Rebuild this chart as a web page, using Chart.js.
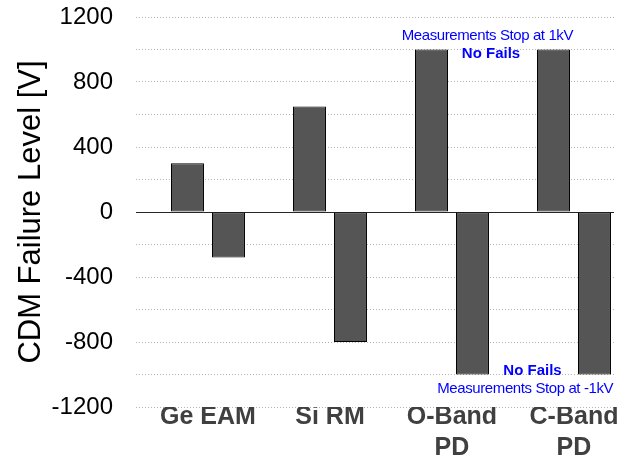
<!DOCTYPE html>
<html>
<head>
<meta charset="utf-8">
<script src="https://cdn.jsdelivr.net/npm/chart.js@4/dist/chart.umd.min.js"></script>
<style>
  html, body { margin: 0; padding: 0; background: #fff; }
  #wrap { width: 635px; height: 457px; }
</style>
</head>
<body>
<div id="wrap"><canvas id="chart" width="635" height="457"></canvas></div>
<script>
const categories = [['Ge EAM'], ['Si RM'], ['O-Band', 'PD'], ['C-Band', 'PD']];
const positiveLevels = [300, 650, 1000, 1000];
const negativeLevels = [-280, -800, -1000, -1000];
const yTicks = [-1200, -800, -400, 0, 400, 800, 1200];

const notes = [
    { text: 'Measurements Stop at 1kV', x: 2.29, y: 1085, bold: false },
    { text: 'No Fails', x: 2.32, y: 975, bold: true },
    { text: 'No Fails', x: 2.66, y: -975, bold: true },
    { text: 'Measurements Stop at -1kV', x: 2.6, y: -1090, bold: false },
];

const FONT = "'Liberation Sans', Arial, sans-serif";

const notesPlugin = {
    id: 'notes',
    afterDatasetsDraw(chart) {
        const ctx = chart.ctx;
        const xs = chart.scales.x;
        const ys = chart.scales.y;
        ctx.save();
        ctx.fillStyle = '#0000ff';
        ctx.textAlign = 'center';
        ctx.textBaseline = 'middle';
        notes.forEach(n => {
            ctx.font = (n.bold ? 'bold ' : '') + '15px ' + FONT;
            ctx.letterSpacing = n.bold ? '0px' : '-0.4px';
            ctx.fillText(n.text, xs.getPixelForValue(n.x), ys.getPixelForValue(n.y));
        });
        ctx.restore();
    }
};

const toPoints = vals => vals.map((v, i) => ({ x: i, y: v }));

const barStyle = {
    backgroundColor: '#555555',
    borderColor: '#000000',
    borderWidth: 1,
    borderSkipped: false,
    categoryPercentage: 0.672,
    barPercentage: 0.805,
};

new Chart(document.getElementById('chart'), {
    type: 'bar',
    data: {
        datasets: [
            Object.assign({ data: toPoints(positiveLevels) }, barStyle),
            Object.assign({ data: toPoints(negativeLevels) }, barStyle),
        ],
    },
    options: {
        responsive: false,
        animation: false,
        layout: { padding: { top: 17, right: 21, left: 0, bottom: 0 } },
        plugins: {
            legend: { display: false },
            tooltip: { enabled: false },
        },
        scales: {
            x: {
                type: 'linear',
                offset: false,
                min: -0.59,
                max: 3.328,
                grid: { display: false },
                border: { display: false },
                ticks: {
                    stepSize: 1,
                    includeBounds: false,
                    autoSkip: false,
                    maxRotation: 0,
                    padding: -13,
                    color: '#404040',
                    font: { family: FONT, size: 25, weight: 'bold', lineHeight: 1.24 },
                    callback: v => Number.isInteger(v) && categories[v] ? categories[v] : '',
                },
                afterFit: s => { s.height = 50; s.paddingLeft = 0; s.paddingRight = 0; },
            },
            y: {
                min: -1200,
                max: 1200,
                grid: {
                    drawTicks: false,
                    lineWidth: 1,
                    color: c => (c.tick && c.tick.value === 0) ? '#262626' : '#b4b4b4',
                },
                border: {
                    display: false,
                    dash: c => (c.tick && c.tick.value === 0) ? [] : [1, 2],
                },
                ticks: {
                    stepSize: 200,
                    maxTicksLimit: 20,
                    padding: 23,
                    color: '#000',
                    font: { family: FONT, size: 24 },
                    callback: v => yTicks.includes(v) ? String(v) : '',
                },
                title: {
                    display: true,
                    text: 'CDM Failure Level [V]',
                    color: '#000',
                    font: { family: FONT, size: 31 },
                    padding: { top: 13, bottom: 0 },
                },
                afterFit: s => { s.width = 136; s.paddingTop = 0; s.paddingBottom = 0; },
            },
        },
    },
    plugins: [notesPlugin],
});
</script>
</body>
</html>
